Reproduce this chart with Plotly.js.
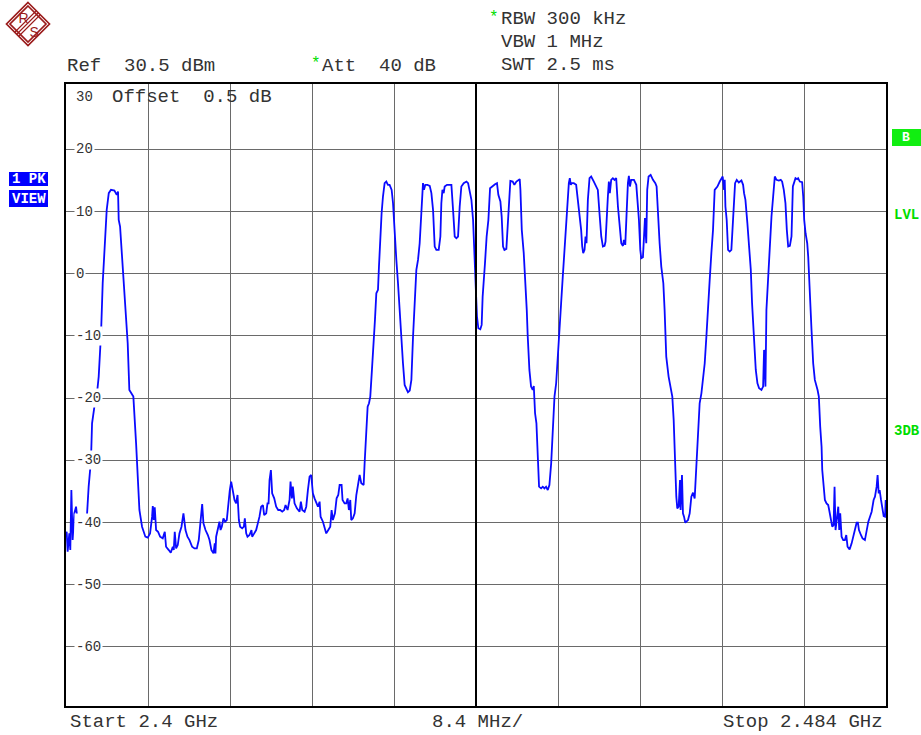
<!DOCTYPE html>
<html>
<head>
<meta charset="utf-8">
<script src="https://cdn.plot.ly/plotly-3.0.1.min.js"></script>
<style>html,body{margin:0;padding:0;background:#fff;}#chart{width:921px;height:735px;}</style>
</head>
<body>
<div id="chart"></div>
<script>
// Frequency (MHz) of trace points
const freqMHz = [
2400.00,2400.07,2400.17,2400.34,2400.44,2400.55,2400.68,2400.85,2401.03,2401.20,2401.44,2401.64,2401.78,2401.98,2402.12,2402.32,2402.56,2402.67,2402.91,2403.14,2403.35,2403.59,2403.76,2403.93,2404.17,2404.38,2404.61,2404.96,2405.20,2405.33,2405.40,2405.54,2405.74,2405.98,2406.15,2406.32,2406.49,2406.77,2406.90,2407.18,2407.35,2407.52,2407.79,2408.13,2408.37,2408.61,2408.82,2408.89,2408.99,2409.09,2409.23,2409.43,2409.64,2409.91,2410.12,2410.25,2410.53,2410.73,2410.94,2411.04,2411.14,2411.28,2411.45,2411.62,2411.83,2412.03,2412.24,2412.44,2412.65,2412.92,2413.16,2413.40,2413.60,2413.77,2413.95,2414.08,2414.29,2414.53,2414.70,2414.90,2415.11,2415.24,2415.31,2415.38,2415.55,2415.72,2415.83,2415.96,2416.13,2416.30,2416.47,2416.61,2416.78,2416.92,2417.09,2417.26,2417.43,2417.57,2417.71,2417.84,2418.05,2418.22,2418.32,2418.46,2418.59,2418.80,2419.00,2419.07,2419.28,2419.48,2419.65,2419.82,2419.99,2420.17,2420.30,2420.51,2420.64,2420.75,2420.85,2420.99,2421.12,2421.33,2421.53,2421.74,2421.94,2422.15,2422.35,2422.49,2422.70,2422.90,2423.00,2423.14,2423.24,2423.41,2423.65,2423.93,2424.06,2424.20,2424.44,2424.61,2424.78,2424.95,2425.12,2425.29,2425.46,2425.63,2425.81,2425.98,2426.08,2426.32,2426.52,2426.66,2426.87,2427.07,2427.21,2427.34,2427.55,2427.72,2427.89,2428.03,2428.23,2428.33,2428.54,2428.71,2428.85,2428.98,2429.12,2429.22,2429.39,2429.57,2429.74,2429.91,2430.08,2430.25,2430.49,2430.59,2430.76,2430.90,2431.04,2431.17,2431.34,2431.51,2431.65,2431.79,2431.96,2432.06,2432.20,2432.33,2432.47,2432.64,2432.81,2432.98,2433.15,2433.36,2433.50,2433.67,2433.84,2434.01,2434.18,2434.35,2434.52,2434.69,2434.86,2435.03,2435.21,2435.38,2435.55,2435.72,2435.89,2436.06,2436.23,2436.40,2436.57,2436.67,2436.81,2437.02,2437.26,2437.43,2437.60,2437.77,2437.94,2438.18,2438.35,2438.45,2438.56,2438.69,2438.79,2439.03,2439.31,2439.48,2439.65,2439.82,2439.99,2440.16,2440.33,2440.50,2440.74,2441.02,2441.19,2441.36,2441.53,2441.70,2441.87,
2442.00,2442.10,2442.24,2442.44,2442.58,2442.68,2442.79,2442.92,2443.09,2443.27,2443.44,2443.71,2443.95,2444.15,2444.29,2444.50,2444.63,2444.77,2444.91,2445.11,2445.18,2445.32,2445.42,2445.52,2445.76,2445.93,2446.14,2446.34,2446.48,2446.55,2446.69,2446.89,2447.03,2447.20,2447.30,2447.47,2447.64,2447.81,2447.92,2448.05,2448.19,2448.33,2448.46,2448.67,2448.84,2449.01,2449.18,2449.35,2449.52,2449.70,2449.87,2450.04,2450.21,2450.38,2450.55,2450.72,2450.89,2451.06,2451.23,2451.41,2451.51,2451.61,2451.71,2451.82,2452.02,2452.26,2452.43,2452.60,2452.77,2452.88,2452.98,2453.12,2453.22,2453.32,2453.46,2453.63,2453.80,2454.07,2454.31,2454.48,2454.65,2454.83,2455.00,2455.17,2455.27,2455.37,2455.51,2455.61,2455.71,2455.85,2456.02,2456.19,2456.36,2456.54,2456.71,2456.88,2457.05,2457.15,2457.29,2457.42,2457.56,2457.66,2457.77,2457.90,2458.18,2458.42,2458.59,2458.69,2458.83,2458.93,2459.10,2459.20,2459.31,2459.44,2459.54,2459.68,2459.89,2460.13,2460.37,2460.50,2460.64,2460.81,2460.98,2461.19,2461.32,2461.49,2461.73,2461.94,2462.11,2462.25,2462.35,2462.52,2462.62,2462.76,2462.90,2462.96,2463.10,2463.20,2463.31,2463.44,2463.72,2463.89,2464.06,2464.23,2464.40,2464.57,2464.74,2464.91,2465.09,2465.26,2465.43,2465.60,2465.77,2465.94,2466.11,2466.28,2466.45,2466.73,2466.97,2467.14,2467.27,2467.41,2467.48,2467.55,2467.68,2467.82,2467.99,2468.16,2468.27,2468.40,2468.54,2468.71,2468.92,2469.19,2469.36,2469.46,2469.60,2469.80,2469.98,2470.15,2470.28,2470.42,2470.56,2470.66,2470.83,2471.00,2471.24,2471.41,2471.51,2471.58,2471.65,2471.75,2471.93,2472.10,2472.27,2472.44,2472.61,2472.78,2473.02,2473.22,2473.36,2473.53,2473.70,2473.84,2473.98,2474.15,2474.32,2474.46,2474.56,2474.73,2474.90,2475.00,2475.17,2475.41,2475.52,2475.62,2475.76,2475.93,2476.03,2476.20,2476.37,2476.54,2476.71,2476.99,2477.12,2477.26,2477.40,2477.47,2477.60,2477.74,2477.91,2478.08,2478.18,2478.36,2478.49,2478.63,2478.73,2478.83,2479.00,2479.11,2479.21,2479.31,2479.45,2479.62,2479.79,2479.93,2480.06,2480.27,2480.48,2480.65,2480.82,2480.99,2481.12,2481.23,2481.43,2481.60,2481.84,2482.01,2482.19,2482.36,2482.53,2482.73,2482.87,2483.04,2483.14,2483.25,2483.35,2483.49,2483.62,2483.76,2483.90,2483.97
];
// Level (dBm) of trace points
const levelDBm = [
-41.75,-41.48,-44.69,-41.75,-44.43,-34.78,-42.82,-38.53,-37.46,-39.87,-40.14,-39.33,-41.21,-40.94,-39.60,-34.24,-29.95,-24.05,-21.37,-19.76,-16.54,-9.57,-1.53,2.76,10.27,12.95,13.48,13.38,12.68,13.21,8.66,7.58,2.76,-2.60,-6.89,-11.18,-18.69,-19.49,-19.76,-27.27,-33.17,-37.99,-40.67,-42.28,-42.44,-41.75,-39.06,-37.35,-39.60,-37.56,-41.21,-41.48,-42.28,-42.55,-41.48,-43.89,-44.43,-44.86,-43.89,-44.43,-41.48,-44.16,-43.62,-41.75,-40.67,-38.53,-41.21,-42.28,-42.82,-43.89,-44.16,-44.16,-42.82,-39.60,-37.03,-40.14,-41.21,-42.01,-42.82,-44.43,-44.96,-43.35,-44.96,-42.28,-40.94,-39.87,-41.21,-40.67,-39.33,-39.87,-39.60,-36.92,-34.78,-33.43,-34.78,-36.38,-36.92,-35.58,-39.60,-40.67,-40.94,-40.67,-39.33,-41.75,-42.28,-42.01,-41.21,-42.28,-41.75,-41.21,-40.14,-39.06,-37.46,-37.19,-38.80,-38.53,-36.92,-36.92,-33.17,-31.56,-35.31,-36.12,-37.46,-37.99,-37.99,-38.26,-37.99,-37.19,-37.99,-36.38,-33.43,-36.12,-34.24,-36.92,-37.72,-38.26,-36.65,-37.99,-38.26,-37.46,-34.78,-32.63,-32.36,-35.31,-36.12,-36.92,-37.46,-36.65,-39.06,-39.87,-41.21,-41.75,-41.21,-40.67,-37.99,-39.60,-38.53,-36.12,-35.58,-33.97,-33.97,-36.38,-36.92,-36.92,-36.12,-37.99,-36.38,-39.60,-39.33,-38.53,-35.58,-33.70,-32.36,-33.70,-33.97,-30.49,-26.20,-21.37,-20.83,-19.76,-15.47,-11.72,-7.43,-3.14,-2.60,1.15,5.98,9.73,12.41,14.56,14.82,14.29,14.29,13.48,11.34,5.98,2.22,-1.53,-6.36,-10.11,-14.40,-17.88,-18.42,-19.06,-18.80,-17.08,-10.11,-4.75,0.61,2.22,4.90,9.73,14.56,13.48,14.29,14.29,14.13,12.95,10.27,4.37,3.83,3.83,5.98,11.34,13.48,12.95,14.02,14.29,14.29,14.29,10.27,5.98,5.71,5.98,10.80,14.02,14.56,14.82,14.56,12.95,11.87,8.66,3.30,
-3.14,-6.89,-8.77,-8.93,-8.23,-3.68,-0.46,1.69,5.98,8.66,13.75,14.13,14.39,14.56,12.68,11.61,9.19,4.37,3.83,3.99,5.98,10.27,14.02,14.93,14.82,14.29,14.82,15.09,15.20,13.48,7.05,3.30,-0.46,-5.82,-10.11,-15.47,-18.15,-18.69,-18.05,-22.44,-24.05,-28.34,-34.24,-34.51,-34.24,-34.51,-34.24,-34.78,-33.97,-30.49,-24.59,-19.76,-17.62,-13.86,-9.04,-4.75,-0.46,3.83,8.66,12.41,14.56,15.36,14.29,14.56,14.56,14.29,11.87,9.73,7.05,4.37,3.30,3.83,5.98,4.90,11.87,15.36,15.63,14.82,14.02,13.48,9.73,5.98,4.37,4.47,5.17,9.19,12.41,14.82,12.95,15.09,15.36,15.09,15.36,10.80,7.58,4.90,4.47,5.44,4.64,9.73,14.56,15.73,14.02,15.09,15.09,14.29,11.34,8.66,3.83,2.49,2.65,5.98,8.93,4.90,13.48,15.63,15.90,15.09,14.56,14.02,8.66,4.90,1.15,-1.53,-5.82,-13.33,-16.54,-18.69,-19.76,-23.52,-28.88,-35.85,-37.72,-37.46,-33.17,-37.99,-32.36,-38.53,-39.06,-40.03,-39.60,-38.53,-35.85,-35.20,-36.12,-31.56,-26.20,-20.83,-19.23,-17.08,-14.40,-10.11,-4.75,-0.99,3.30,7.05,13.48,14.02,14.82,15.36,15.63,13.48,15.09,10.80,8.66,3.83,3.56,3.83,7.58,11.34,14.56,15.09,14.66,14.98,14.29,12.95,11.87,8.12,3.83,0.61,-4.75,-9.04,-11.72,-15.47,-17.62,-18.42,-18.69,-18.15,-12.25,-15.47,-18.15,-5.82,-0.46,3.83,9.19,12.41,15.63,15.09,14.98,15.09,14.82,13.48,11.34,7.05,4.37,4.47,5.98,14.02,14.56,15.36,15.20,15.36,14.82,14.72,12.41,8.66,6.51,4.90,2.76,-4.75,-9.04,-14.40,-17.08,-18.69,-19.76,-24.59,-27.81,-31.56,-33.70,-36.38,-36.92,-37.19,-37.99,-39.87,-40.67,-40.41,-34.24,-41.21,-39.06,-37.46,-41.21,-38.53,-42.28,-42.82,-42.82,-42.01,-43.89,-44.32,-43.35,-42.28,-41.21,-40.03,-40.03,-41.21,-42.01,-42.55,-42.82,-41.21,-39.87,-39.06,-38.26,-36.38,-35.85,-34.24,-32.36,-35.31,-34.78,-36.38,-37.99,-38.96,-39.06,-36.38
];
const yTickVals = [20, 10, 0, -10, -20, -30, -40, -50, -60];
const yTickText = ["20", "10", "0", "-10", "-20", "-30", "-40", "-50", "-60"];
const startLabel = "Start 2.4 GHz";
const spanLabel = "8.4 MHz/";
const stopLabel = "Stop 2.484 GHz";
const refLabel = "Ref  30.5 dBm";
const attLabel = "Att  40 dB";
const rbwLabel = "RBW 300 kHz";
const vbwLabel = "VBW 1 MHz";
const swtLabel = "SWT 2.5 ms";
const offsetLabel = "Offset  0.5 dB";
const topLevelLabel = "30";

const MONO = "Liberation Mono, Courier New, monospace";
const TXT = "#333";
const GREEN = "#00dd00";

// plot area: x 66..886, y 84..706
const PL = 66, PT = 84, PW = 820, PH = 622;
const px = v => (v - PL) / PW;
const py = v => (PT + PH - v) / PH;

function txt(text, x, y, opts) {
  return Object.assign({
    text: text, xref: 'paper', yref: 'paper', x: px(x), y: py(y),
    xanchor: 'left', yanchor: 'middle', showarrow: false,
    font: {family: MONO, size: 19, color: TXT}
  }, opts || {});
}

const annotations = [
  txt(refLabel, 65, 66),
  txt('*', 309, 64, {font: {family: MONO, size: 16, color: GREEN}}),
  txt(attLabel, 320, 66),
  txt('*', 487, 18, {font: {family: MONO, size: 16, color: GREEN}}),
  txt(rbwLabel, 499, 19),
  txt(vbwLabel, 499, 42),
  txt(swtLabel, 499, 65),
  txt(topLevelLabel, 74, 97, {font: {family: MONO, size: 14, color: TXT}, bgcolor: '#fff'}),
  txt(offsetLabel, 110, 97),
  txt(startLabel, 68, 722),
  txt(spanLabel, 477, 722, {xanchor: 'center'}),
  txt(stopLabel, 885, 722, {xanchor: 'right'}),
  txt('<b>1 PK</b>', 28.5, 179, {xanchor: 'center', font: {family: MONO, size: 14, color: '#fff'}}),
  txt('<b>VIEW</b>', 28.5, 198.5, {xanchor: 'center', font: {family: MONO, size: 14, color: '#fff'}}),
  txt('<b>B</b>', 906, 137.5, {xanchor: 'center', font: {family: MONO, size: 13, color: '#fff'}}),
  txt('<b>LVL</b>', 892, 215, {font: {family: MONO, size: 14, color: GREEN}}),
  txt('<b>3DB</b>', 892, 431, {font: {family: MONO, size: 14, color: GREEN}})
];
yTickVals.forEach((v, i) => {
  annotations.push({
    text: yTickText[i], xref: 'paper', yref: 'y', x: px(74), y: v,
    xanchor: 'left', yanchor: 'middle', showarrow: false, bgcolor: '#fff', borderpad: 1,
    font: {family: MONO, size: 14, color: TXT}
  });
});

const shapes = [
  {type: 'line', xref: 'x', yref: 'paper', x0: 2442, x1: 2442, y0: 0, y1: 1, line: {color: '#000', width: 2}},
  {type: 'rect', xref: 'paper', yref: 'paper', x0: px(9), x1: px(48), y0: py(186), y1: py(172), fillcolor: '#0000ff', line: {width: 0}},
  {type: 'rect', xref: 'paper', yref: 'paper', x0: px(9), x1: px(48), y0: py(207), y1: py(190), fillcolor: '#0000ff', line: {width: 0}},
  {type: 'rect', xref: 'paper', yref: 'paper', x0: px(892), x1: px(921), y0: py(146), y1: py(129), fillcolor: '#11ee11', line: {width: 0}}
];

const logoSvg = '<svg xmlns="http://www.w3.org/2000/svg" width="46" height="46" viewBox="0 0 46 46">' +
  '<g fill="none" stroke="#9b1c1c" stroke-width="1.7">' +
  '<path d="M23 1.5 L44.5 23 L23 44.5 L1.5 23 Z"/>' +
  '<path d="M23 5 L41 23 L23 41 L5 23 Z"/>' +
  '</g>' +
  '<g fill="none" stroke="#9b1c1c" stroke-width="1.1">' +
  '<path d="M10 31 L31 10 M12 33 L33 12 M14 35 L35 14"/>' +
  '</g>' +
  '<text x="13.5" y="22" font-family="Liberation Sans, sans-serif" font-size="14" fill="#9b1c1c">R</text>' +
  '<text x="24.5" y="36" font-family="Liberation Sans, sans-serif" font-size="14" fill="#9b1c1c">S</text>' +
  '</svg>';

const trace = {
  x: freqMHz, y: levelDBm, type: 'scatter', mode: 'lines',
  line: {color: '#0a0aff', width: 1.8}, hoverinfo: 'skip'
};

const layout = {
  width: 921, height: 735,
  margin: {l: PL, r: 921 - PL - PW, t: PT, b: 735 - PT - PH, pad: 0},
  paper_bgcolor: '#fff', plot_bgcolor: '#fff',
  showlegend: false,
  xaxis: {
    range: [2400, 2484], tick0: 2400, dtick: 8.4, showticklabels: false, ticks: '',
    showgrid: true, gridcolor: '#6a6a6a', gridwidth: 1, zeroline: false,
    showline: true, mirror: true, linecolor: '#000', linewidth: 2, fixedrange: true
  },
  yaxis: {
    range: [-69.5, 30.5], tickmode: 'array', tickvals: yTickVals, showticklabels: false, ticks: '',
    showgrid: true, gridcolor: '#6a6a6a', gridwidth: 1, zeroline: false,
    showline: true, mirror: true, linecolor: '#000', linewidth: 2, fixedrange: true
  },
  annotations: annotations,
  shapes: shapes,
  images: [{
    source: 'data:image/svg+xml;charset=utf-8,' + encodeURIComponent(logoSvg),
    xref: 'paper', yref: 'paper', x: px(5), y: py(1), sizex: 46 / PW, sizey: 46 / PH,
    xanchor: 'left', yanchor: 'top', sizing: 'stretch', layer: 'above'
  }]
};

Plotly.newPlot('chart', [trace], layout, {staticPlot: true, displayModeBar: false});
</script>
</body>
</html>
